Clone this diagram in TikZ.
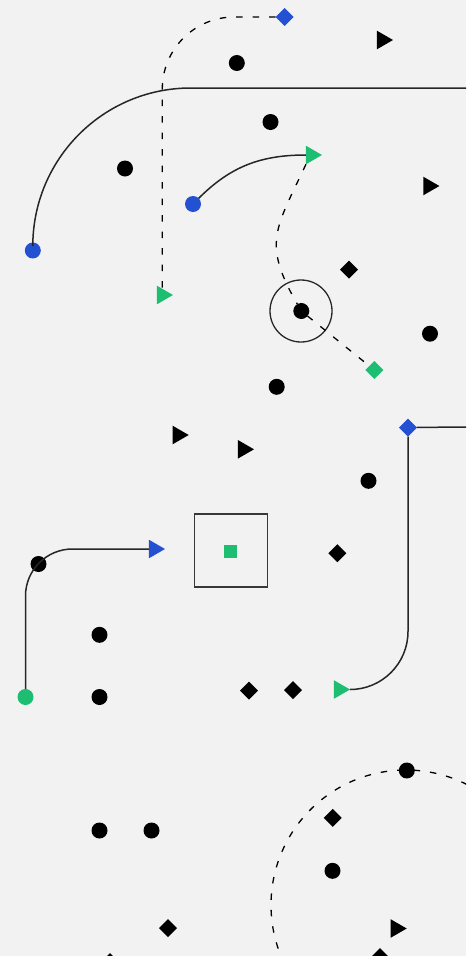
\documentclass[tikz,border=0pt]{standalone}
\usetikzlibrary{shapes.geometric}
\definecolor{bgc}{HTML}{F2F2F2}
\definecolor{myblue}{HTML}{2450D2}
\definecolor{mygreen}{HTML}{1EBE72}
\definecolor{lnc}{HTML}{262626}
\begin{document}
\begin{tikzpicture}[x=1pt,y=1pt,
  dot/.style={circle,fill=black,minimum size=16pt,inner sep=0pt,outer sep=0pt},
  bdot/.style={dot,fill=myblue},
  gdot/.style={dot,fill=mygreen},
  tri/.style={regular polygon,regular polygon sides=3,shape border rotate=-90,minimum size=21.4pt,inner sep=0pt,outer sep=0pt,fill=black},
  btri/.style={tri,fill=myblue},
  gtri/.style={tri,fill=mygreen},
  dia/.style={diamond,aspect=1,minimum width=18pt,minimum height=18pt,inner sep=0pt,outer sep=0pt,fill=black},
  bdia/.style={dia,fill=myblue},
  gdia/.style={dia,fill=mygreen},
  solidline/.style={draw=lnc,line width=1.5pt},
  dashline/.style={draw=black,line width=1.3pt,dash pattern=on 6.5pt off 10pt}
]
\useasboundingbox (0,0) rectangle (466,-956);
\fill[bgc] (0,0) rectangle (466,-956);
\clip (0,0) rectangle (466,-956);

% black dots
\node[dot] (c1) at (236.8,-63) {};
\node[dot] (c2) at (270.5,-122) {};
\node[dot] (c3) at (125,-168.5) {};
\node[circle,draw=lnc,line width=1.3pt,minimum size=62pt,inner sep=0pt] (ring) at (301,-311) {};
\node[dot] (c4) at (301.3,-311) {};
\node[dot] (c5) at (430,-333.7) {};
\node[dot] (c6) at (276.7,-386.8) {};
\node[dot] (c7) at (368.5,-480.8) {};
\node[dot] (c8) at (38.5,-564) {};
\node[dot] (c9) at (99.5,-634.8) {};
\node[dot] (c10) at (99.5,-697) {};
\node[dot] (c11) at (406.8,-770.5) {};
\node[dot] (c12) at (99.5,-830.5) {};
\node[dot] (c13) at (151.5,-830.5) {};
\node[dot] (c14) at (332.5,-870.8) {};

% coloured dots
\node[bdot] (bdL) at (32.8,-250.5) {};
\node[bdot] (bdB) at (193,-204) {};
\node[gdot] (gdB) at (25.5,-697) {};

% triangles
\node[tri] (t1) at (382.3,-40) {};
\node[tri] (t2) at (428.7,-186) {};
\node[tri] (t3) at (178,-435) {};
\node[tri] (t4) at (243.3,-449.3) {};
\node[tri] (t5) at (396,-928.5) {};
\node[gtri] (gtA) at (162.3,-295) {};
\node[gtri] (gtB) at (311.3,-155) {};
\node[gtri] (gtC) at (339.3,-689.5) {};
\node[btri] (btA) at (154.3,-549) {};

% diamonds
\node[dia] (d1) at (349,-269.5) {};
\node[dia] (d2) at (337.3,-553.2) {};
\node[dia] (d3) at (249,-690.7) {};
\node[dia] (d4) at (293,-690) {};
\node[dia] (d5) at (332.7,-817.8) {};
\node[dia] (d6) at (168,-928) {};
\node[dia] (d7) at (380,-957) {};
\node[dia] (d8) at (110,-962) {};
\node[bdia] (bdA) at (284.7,-17) {};
\node[bdia] (bdC) at (408,-427.5) {};
\node[gdia] (gdA) at (374.3,-370) {};

% box with green square
\node[rectangle,draw=black!78,line width=1.3pt,minimum size=73pt,inner sep=0pt] (box) at (231,-550.5) {};
\node[rectangle,fill=mygreen,minimum size=13pt,inner sep=0pt] (sq) at (230.8,-551) {};

% big dashed circle
\draw[dashline] (406,-905) circle[radius=135];

% connectors
\coordinate (eA) at (466,-88);
\coordinate (eB) at (466,-427);
\draw[solidline,rounded corners=158pt] (bdL) |- (eA);
\draw[dashline,rounded corners=72pt] (bdA) -| (gtA.90);
\draw[solidline] (bdB) to[out=45,in=180] (gtB.180);
\draw[dashline] (gtB.240) to[out=-115,in=120,looseness=1.3] (c4);
\draw[dashline] (c4) -- (gdA);
\draw[solidline,rounded corners=47pt] (gdB) |- (btA.180);
\draw[solidline] (bdC) -- (eB);
\draw[solidline,rounded corners=58pt] (bdC) |- (gtC.0);
\end{tikzpicture}
\end{document}
